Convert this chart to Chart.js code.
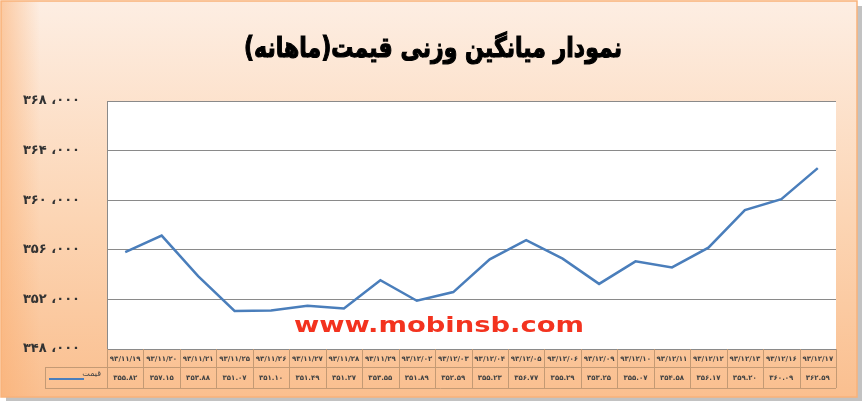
<!DOCTYPE html>
<html>
<head>
<meta charset="utf-8">
<script src="https://cdn.jsdelivr.net/npm/chart.js@4.4.1/dist/chart.umd.min.js"></script>
<style>
    body { margin: 0; background: #fff; }
</style>
</head>
<body>
<canvas id="priceChart" width="865" height="412"></canvas>
<script>
// Weighted average price chart (monthly)

const chartTitle = 'نمودار میانگین وزنی قیمت(ماهانه)';
const seriesName = 'قیمت';
const watermark = 'www.mobinsb.com';

const dates = [
    '۹۳/۱۱/۱۹', '۹۳/۱۱/۲۰', '۹۳/۱۱/۲۱', '۹۳/۱۱/۲۵', '۹۳/۱۱/۲۶',
    '۹۳/۱۱/۲۷', '۹۳/۱۱/۲۸', '۹۳/۱۱/۲۹', '۹۳/۱۲/۰۲', '۹۳/۱۲/۰۳',
    '۹۳/۱۲/۰۴', '۹۳/۱۲/۰۵', '۹۳/۱۲/۰۶', '۹۳/۱۲/۰۹', '۹۳/۱۲/۱۰',
    '۹۳/۱۲/۱۱', '۹۳/۱۲/۱۲', '۹۳/۱۲/۱۳', '۹۳/۱۲/۱۶', '۹۳/۱۲/۱۷'
];
const prices = [
    355820, 357150, 353880, 351070, 351100,
    351490, 351270, 353550, 351890, 352590,
    355230, 356770, 355290, 353250, 355070,
    354580, 356170, 359200, 360090, 362590
];
const yTicks = [348000, 352000, 356000, 360000, 364000, 368000];

// 1. Helpers
const faDigits = (s) => String(s).replace(/\d/g, d => '۰۱۲۳۴۵۶۷۸۹'[d]);
const tickLabel = (v) => faDigits(Math.round(v / 1000)) + ' ،' + faDigits('000');
const cellLabel = (v) => faDigits((v / 1000).toFixed(2));

const FONT = "'DejaVu Sans', sans-serif";
const TABLE = { dateTop: 349, dateH: 18, valH: 21, legendLeft: 45, border: '#c49a74' };

// 2. Background + white plot area
const frame = {
    id: 'frame',
    beforeDraw(chart) {
        const c = chart.ctx, a = chart.chartArea;
        c.save();
        // shadow
        c.fillStyle = 'rgba(120,120,120,0.45)';
        c.fillRect(6, 6, 856, 395);
        const g = c.createLinearGradient(0, 0, 0, 398);
        g.addColorStop(0, '#fdeee3');
        g.addColorStop(0.55, '#fcd5b4');
        g.addColorStop(1, '#fabf8f');
        c.fillStyle = g;
        c.fillRect(1, 1, 856, 396);
        const h = c.createLinearGradient(0, 0, 40, 0);
        h.addColorStop(0, 'rgba(250,175,115,0.6)');
        h.addColorStop(1, 'rgba(250,175,115,0)');
        c.fillStyle = h;
        c.fillRect(1, 1, 40, 396);
        c.strokeStyle = '#f9b27a';
        c.lineWidth = 1.5;
        c.strokeRect(1, 1, 856, 396);
        c.fillStyle = '#fff';
        c.fillRect(a.left, a.top, a.right - a.left, a.bottom - a.top);
        c.restore();
    }
};

// 3. Title, watermark and the data table under the axis
const extras = {
    id: 'extras',
    afterDraw(chart) {
        const c = chart.ctx, a = chart.chartArea, xs = chart.scales.x;
        c.save();

        // title, squeezed to the width of the original
        c.direction = 'rtl';
        c.fillStyle = '#000';
        c.strokeStyle = '#000';
        c.lineWidth = 1.2;
        c.font = 'bold 28px ' + FONT;
        c.textAlign = 'center';
        c.textBaseline = 'middle';
        const tw = c.measureText(chartTitle).width;
        c.translate(433, 50);
        c.scale(378 / tw, 1);
        c.fillText(chartTitle, 0, 0);
        c.strokeText(chartTitle, 0, 0);
        c.setTransform(1, 0, 0, 1, 0, 0);
        c.direction = 'ltr';

        c.font = 'bold 21px ' + FONT;
        c.fillStyle = '#f3331f';
        const w = c.measureText(watermark).width;
        c.translate(439, 327);
        c.scale(290 / w, 1);
        c.fillText(watermark, 0, 0);
        c.setTransform(1, 0, 0, 1, 0, 0);

        const n = dates.length;
        const cw = (a.right - a.left) / n;
        const t0 = TABLE.dateTop, t1 = t0 + TABLE.dateH, t2 = t1 + TABLE.valH;
        c.strokeStyle = TABLE.border;
        c.lineWidth = 1;
        c.beginPath();
        c.moveTo(a.left, t1 + 0.5); c.lineTo(a.right, t1 + 0.5);
        c.moveTo(TABLE.legendLeft, t1 + 0.5); c.lineTo(a.left, t1 + 0.5);
        c.moveTo(TABLE.legendLeft, t2 + 0.5); c.lineTo(a.right, t2 + 0.5);
        c.moveTo(TABLE.legendLeft + 0.5, t1); c.lineTo(TABLE.legendLeft + 0.5, t2);
        for (let i = 0; i <= n; i++) {
            const x = Math.round(a.left + i * cw) + 0.5;
            c.moveTo(x, t0); c.lineTo(x, t2);
        }
        c.stroke();

        c.fillStyle = '#444';
        c.font = 'bold 7px ' + FONT;
        dates.forEach((d, i) => {
            const x = xs.getPixelForValue(i);
            c.fillText(d, x, t0 + TABLE.dateH / 2 + 1);
            c.fillText(cellLabel(prices[i]), x, t1 + TABLE.valH / 2 + 1);
        });

        // legend key
        c.strokeStyle = '#4a7ebb';
        c.lineWidth = 2;
        c.beginPath();
        c.moveTo(49, t1 + 12); c.lineTo(84, t1 + 12);
        c.stroke();
        c.direction = 'rtl';
        c.textAlign = 'right';
        c.font = '8px ' + FONT;
        c.fillText(seriesName, 101, t1 + 7);
        c.restore();
    }
};

// 4. Chart
new Chart(document.getElementById('priceChart'), {
    type: 'line',
    data: {
        labels: dates,
        datasets: [{
            label: seriesName,
            data: prices,
            borderColor: '#4a7ebb',
            borderWidth: 2.5,
            pointRadius: 0,
            tension: 0,
            fill: false
        }]
    },
    options: {
        responsive: false,
        animation: false,
        devicePixelRatio: 1,
        layout: { padding: { top: 101, right: 29, bottom: 0, left: 0 } },
        plugins: {
            legend: { display: false },
            tooltip: { enabled: false }
        },
        scales: {
            x: {
                offset: true,
                grid: { display: false },
                border: { display: false },
                ticks: { display: false },
                afterFit: (s) => { s.height = 63; }
            },
            y: {
                min: yTicks[0],
                max: yTicks[yTicks.length - 1],
                afterBuildTicks: (s) => { s.ticks = yTicks.map(v => ({ value: v })); },
                ticks: {
                    callback: (v) => tickLabel(v),
                    color: '#333',
                    padding: 27,
                    font: { family: 'DejaVu Sans', weight: 'bold', size: 13 }
                },
                grid: { color: '#8a8a8a', drawTicks: false },
                border: { color: '#8a8a8a' },
                afterFit: (s) => { s.width = 107; }
            }
        }
    },
    plugins: [frame, extras]
});
</script>
</body>
</html>
